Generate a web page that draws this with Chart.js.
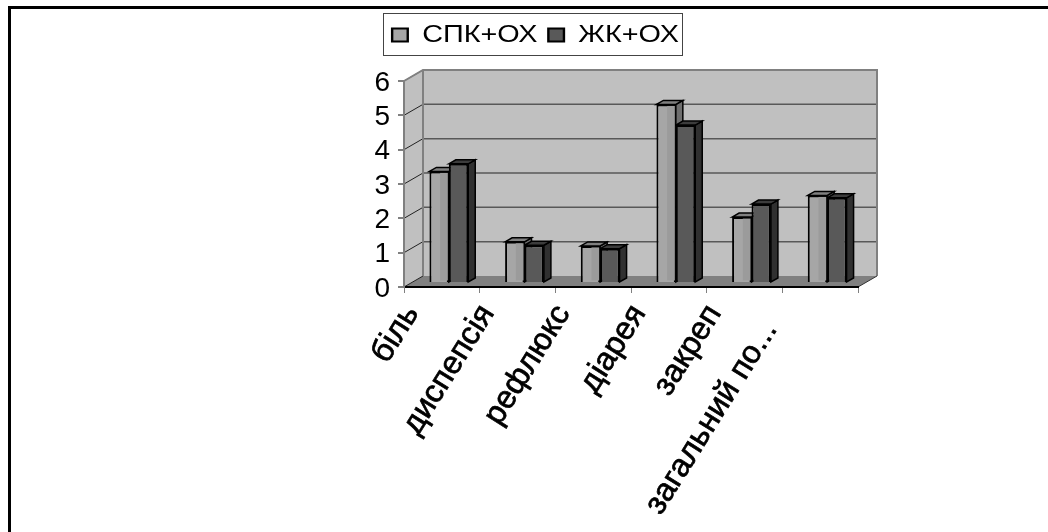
<!DOCTYPE html>
<html lang="uk">
<head>
<meta charset="utf-8">
<style>html,body{margin:0;padding:0;background:#fff}canvas{display:block}</style>
<script src="https://cdn.jsdelivr.net/npm/chart.js@4"></script>
</head>
<body>
<div style="width:1048px;height:532px"><canvas id="c" width="1048" height="532"></canvas></div>
<script>
const categories = ['біль', 'диспепсія', 'рефлюкс', 'діарея', 'закреп', 'загальний по...'];
const seriesNames = ['СПК+ОХ', 'ЖК+ОХ'];
const seriesA = [3.25, 1.2, 1.08, 5.2, 1.92, 2.55];
const seriesB = [3.47, 1.1, 1.0, 4.6, 2.3, 2.48];

const WALL_DX = 19, WALL_DY = -11;      // depth of the chart box
const BAR_DX = 7, BAR_DY = -4;          // bar shift within the box and bar depth
const FRONT = ['#a6a6a6', '#595959'];
const TOPF = ['#808080', '#3c3c3c'];
const SIDE = ['#6e6e6e', '#303030'];
const LEGEND_STRETCH = 1.2;             // the reference's legend text is horizontally wide

function poly(ctx, pts, fill, stroke, lw) {
  ctx.beginPath();
  pts.forEach((p, i) => i ? ctx.lineTo(p[0], p[1]) : ctx.moveTo(p[0], p[1]));
  ctx.closePath();
  if (fill) { ctx.fillStyle = fill; ctx.fill(); }
  if (stroke) { ctx.strokeStyle = stroke; ctx.lineWidth = lw; ctx.stroke(); }
}

const box3d = {
  id: 'box3d',
  beforeLayout(chart) {
    const lg = chart.legend;
    if (!lg._wrapped) {
      lg._wrapped = true;
      const fit = lg.fit, draw = lg.draw;
      lg.fit = function () { fit.call(this); this.height = 42; };
      lg.draw = function () {
        const c = this.ctx, cx = (this.left + this.right) / 2;
        c.save();
        c.translate(cx, 0); c.scale(LEGEND_STRETCH, 1); c.translate(-cx, 0);
        draw.call(this);
        c.restore();
      };
    }
  },
  afterLayout(chart) {
    const lg = chart.legend;
    lg.left = 386; lg.right = 685; lg.width = 299; lg.top = 14; lg.bottom = 56;
  },
  beforeDraw(chart) {
    const { ctx, chartArea: a, scales: { x, y } } = chart;
    // fine placement of tick labels, as computed by the scales
    if (!x._nudged) {
      x._nudged = true;
      const xItems = x.getLabelItems();
      xItems.forEach(it => { it.options.translation[1] += 1; });
      const last = xItems[xItems.length - 1].options.translation;
      last[0] -= 20; last[1] += 16;
      y.getLabelItems().forEach(it => { it.options.translation[1] += 2; });
    }
    ctx.save();
    // page frame
    ctx.fillStyle = '#000';
    ctx.fillRect(8, 6, 1040, 3);
    ctx.fillRect(8, 6, 3, 526);
    // legend frame
    ctx.strokeStyle = '#444'; ctx.lineWidth = 1;
    ctx.strokeRect(383.5, 13.5, 299, 42);
    // side wall, back wall, floor
    const L = a.left, R = a.right, T = a.top, B = a.bottom;
    poly(ctx, [[L, T], [L + WALL_DX, T + WALL_DY], [L + WALL_DX, B + WALL_DY], [L, B]], '#c0c0c0');
    poly(ctx, [[L + WALL_DX, T + WALL_DY], [R + WALL_DX, T + WALL_DY], [R + WALL_DX, B + WALL_DY], [L + WALL_DX, B + WALL_DY]], '#c0c0c0');
    poly(ctx, [[L, B], [L + WALL_DX, B + WALL_DY], [R + WALL_DX, B + WALL_DY], [R, B]], '#808080');
    // grid lines, taken from the value scale
    y.ticks.forEach(t => {
      const py = y.getPixelForValue(t.value);
      ctx.lineCap = 'butt';
      if (t.value > 0 && t.value < 6) {
        ctx.strokeStyle = '#585858'; ctx.lineWidth = 1.5;
        ctx.beginPath(); ctx.moveTo(L + WALL_DX, py + WALL_DY); ctx.lineTo(R + WALL_DX, py + WALL_DY); ctx.stroke();
      }
      ctx.strokeStyle = t.value === 6 ? '#808080' : '#222'; ctx.lineWidth = 1;
      ctx.beginPath(); ctx.moveTo(L, py); ctx.lineTo(L + WALL_DX, py + WALL_DY); ctx.stroke();
    });
    // wall edges
    ctx.strokeStyle = '#808080'; ctx.lineWidth = 2;
    ctx.beginPath();
    ctx.moveTo(L, T); ctx.lineTo(L + WALL_DX, T + WALL_DY); ctx.lineTo(R + WALL_DX, T + WALL_DY);
    ctx.lineTo(R + WALL_DX, B + WALL_DY);
    ctx.moveTo(L + WALL_DX, T + WALL_DY); ctx.lineTo(L + WALL_DX, B + WALL_DY);
    ctx.stroke();
    ctx.strokeStyle = '#333'; ctx.lineWidth = 1;
    ctx.beginPath(); ctx.moveTo(R, B); ctx.lineTo(R + WALL_DX, B + WALL_DY); ctx.stroke();
    ctx.restore();
  },
  beforeDatasetsDraw(chart) {
    const { ctx } = chart;
    ctx.save();
    ctx.translate(BAR_DX, BAR_DY);
    // top and side faces: first series first, second series over it
    [0, 1].forEach(d => {
      chart.getDatasetMeta(d).data.forEach(bar => {
        const p = bar.getProps(['x', 'y', 'base', 'width'], true);
        const l = p.x - p.width / 2, r = p.x + p.width / 2;
        poly(ctx, [[r, p.y], [r + BAR_DX, p.y + BAR_DY], [r + BAR_DX, p.base + BAR_DY], [r, p.base]], SIDE[d], '#000', 1.5);
        poly(ctx, [[l, p.y], [l + BAR_DX, p.y + BAR_DY], [r + BAR_DX, p.y + BAR_DY], [r, p.y]], TOPF[d], '#000', 1.5);
      });
    });
  },
  afterDatasetsDraw(chart) {
    const { ctx } = chart;
    // soft shading on the first series' front faces
    chart.getDatasetMeta(0).data.forEach(bar => {
      const p = bar.getProps(['x', 'y', 'base', 'width'], true);
      ctx.fillStyle = '#9b9b9b';
      ctx.fillRect(p.x + 1, p.y + 1.5, p.width / 2 - 2, p.base - p.y - 3);
    });
    ctx.restore();
  }
};

new Chart(document.getElementById('c'), {
  type: 'bar',
  plugins: [box3d],
  data: {
    labels: categories,
    datasets: [
      { label: seriesNames[0], data: seriesA, backgroundColor: FRONT[0], borderColor: '#000', borderWidth: 2 },
      { label: seriesNames[1], data: seriesB, backgroundColor: FRONT[1], borderColor: '#000', borderWidth: 2 }
    ]
  },
  options: {
    responsive: false,
    animation: false,
    devicePixelRatio: 1,
    categoryPercentage: 0.513,
    barPercentage: 1,
    layout: { padding: { left: 0, right: 190, top: 39, bottom: 0 } },
    plugins: {
      tooltip: { enabled: false },
      legend: {
        position: 'top',
        fullSize: false,
        labels: {
          color: '#000',
          font: { family: '"Liberation Sans"', size: 24 },
          boxWidth: 13, boxHeight: 13, padding: 9
        }
      }
    },
    scales: {
      x: {
        afterFit(s) { s.height = 245; },
        border: { color: '#000', width: 2 },
        grid: { drawOnChartArea: false, color: '#808080', tickLength: 6, lineWidth: 1 },
        ticks: {
          color: '#000', font: { family: '"Liberation Sans"', size: 32 },
          textStrokeColor: '#000', textStrokeWidth: 0.7,
          minRotation: 58, maxRotation: 58, autoSkip: false, padding: 4, labelOffset: -30
        }
      },
      y: {
        min: 0, max: 6,
        afterFit(s) { s.width = 404; },
        border: { color: '#808080', width: 2 },
        grid: { drawOnChartArea: false, color: '#808080', tickLength: 6, lineWidth: 2 },
        ticks: {
          stepSize: 1, autoSkip: false, color: '#000', padding: 8,
          font: { family: '"Liberation Sans"', size: 28 }
        }
      }
    }
  }
});
</script>
</body>
</html>
